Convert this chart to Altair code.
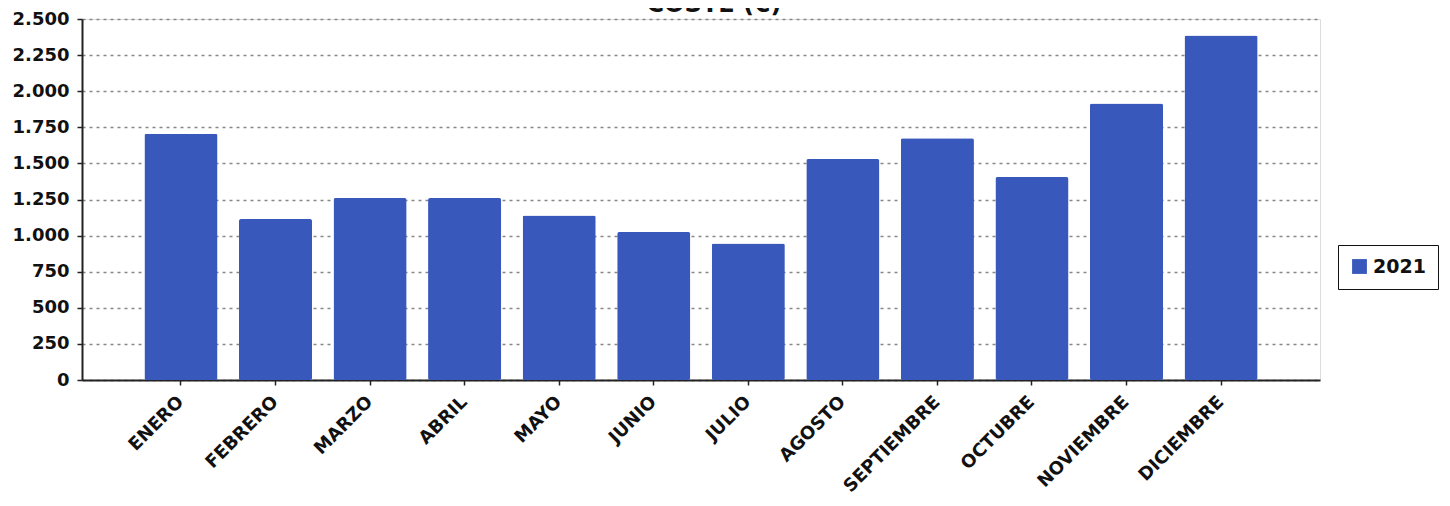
import altair as alt
import pandas as pd

months = ["ENERO", "FEBRERO", "MARZO", "ABRIL", "MAYO", "JUNIO", "JULIO",
          "AGOSTO", "SEPTIEMBRE", "OCTUBRE", "NOVIEMBRE", "DICIEMBRE"]
coste_2021 = [1705, 1115, 1260, 1260, 1140, 1025, 945, 1530, 1675, 1405, 1915, 2385]
series = ["2021"] * len(months)
y_ticks = [0, 250, 500, 750, 1000, 1250, 1500, 1750, 2000, 2250, 2500]
title_text = ["COSTE (€)"]

df = pd.DataFrame({"mes": months, "coste": coste_2021, "serie": series})

FONT = "DejaVu Sans"
BLUE = "#3858bc"

bars = alt.Chart(df).mark_bar(color=BLUE, cornerRadius=2).encode(
    x=alt.X("mes:N", sort=months, title=None,
            scale=alt.Scale(paddingInner=0.227, paddingOuter=0.66),
            axis=alt.Axis(labelAngle=-45, labelAlign="right", labelBaseline="middle",
                          labelFont=FONT, labelFontWeight="bold", labelFontSize=18,
                          labelColor="#111", labelPadding=14, labelOffset=0,
                          domainColor="#222", domainWidth=2, tickColor="#222",
                          tickSize=5, tickWidth=1.5, grid=False)),
    y=alt.Y("coste:Q", title=None,
            scale=alt.Scale(domain=[0, 2500], nice=False),
            axis=alt.Axis(values=y_ticks,
                          labelExpr="replace(format(datum.value, ','), ',', '.')",
                          labelFont=FONT, labelFontWeight="bold", labelFontSize=18,
                          labelColor="#111", labelPadding=8,
                          domainColor="#222", domainWidth=2, tickColor="#222",
                          tickSize=5, tickWidth=1.5,
                          grid=True, gridColor="#888", gridDash=[3, 4], gridWidth=1.3)),
    color=alt.Color("serie:N", title=None,
                    scale=alt.Scale(range=[BLUE]),
                    legend=alt.Legend(orient="none", legendX=1256, legendY=226,
                                      strokeColor="#111", padding=12,
                                      symbolType="square", symbolSize=220,
                                      symbolStrokeWidth=0,
                                      labelFont=FONT, labelFontWeight="bold",
                                      labelFontSize=19, labelColor="#111")),
)

title_df = pd.DataFrame({"t": title_text})
title = alt.Chart(title_df).mark_text(
    font=FONT, fontWeight="bold", fontSize=24, baseline="bottom", align="center",
    color="#111"
).encode(text="t:N", x=alt.value(632), y=alt.value(-2))

chart = alt.layer(bars, title).properties(
    width=1238, height=361,
    autosize=alt.AutoSizeParams(type="none"),
    padding={"left": 74, "top": 11, "right": 122, "bottom": 118},
).configure_view(stroke=None).configure(background="white")

chart.save("out.html", embed_options={"renderer": "svg", "actions": False})
